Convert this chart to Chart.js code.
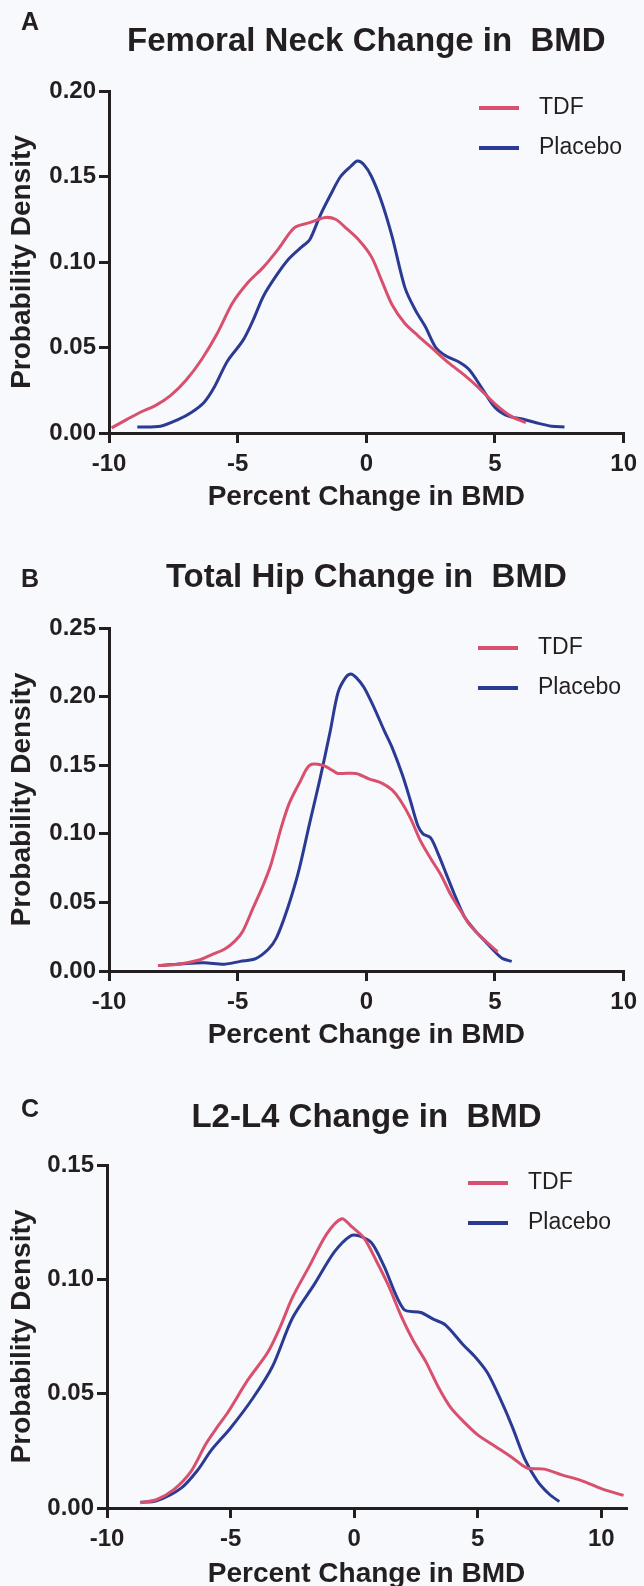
<!DOCTYPE html>
<html>
<head>
<meta charset="utf-8">
<title>Change in BMD – probability density</title>
<script src="https://cdn.jsdelivr.net/npm/chart.js@4.4.0/dist/chart.umd.min.js"></script>
<style>
  html, body { margin: 0; padding: 0; background: #f8f9fc; }
  body { width: 644px; height: 1586px; position: relative; overflow: hidden; }
  .panel { position: absolute; left: 0; width: 644px; }
</style>
</head>
<body>
<div class="panel" style="top:0;height:520px"><canvas id="chartA"></canvas></div>
<div class="panel" style="top:520px;height:530px"><canvas id="chartB"></canvas></div>
<div class="panel" style="top:1050px;height:536px"><canvas id="chartC"></canvas></div>
<script>
// ---- data ----
const seriesNames = ['TDF', 'Placebo'];

// A: femoral neck
const femoralTdfX = [-9.9, -9.3, -8.8, -8.2, -7.6, -7.0, -6.4, -5.8, -5.2, -4.6, -4.0, -3.4, -2.8, -2.2, -1.6, -1.2, -0.8, -0.3, 0.2, 0.6, 1.0, 1.5, 2.0, 2.6, 3.2, 3.8, 4.4, 5.0, 5.6, 6.2];
const femoralTdfY = [0.003, 0.008, 0.012, 0.016, 0.022, 0.031, 0.043, 0.058, 0.076, 0.088, 0.097, 0.108, 0.120, 0.123, 0.126, 0.125, 0.120, 0.113, 0.103, 0.089, 0.075, 0.064, 0.057, 0.049, 0.041, 0.034, 0.026, 0.017, 0.010, 0.006];
const femoralPlaceboX = [-8.9, -8.0, -7.3, -6.8, -6.3, -5.9, -5.4, -4.8, -4.4, -4.0, -3.5, -3.0, -2.5, -2.2, -1.8, -1.4, -1.0, -0.6, -0.35, -0.1, 0.2, 0.6, 1.0, 1.5, 1.9, 2.3, 2.7, 3.1, 3.6, 4.0, 4.5, 5.0, 5.5, 6.1, 6.6, 7.2, 7.7];
const femoralPlaceboY = [0.0035, 0.004, 0.008, 0.012, 0.018, 0.027, 0.042, 0.054, 0.066, 0.080, 0.092, 0.102, 0.109, 0.113, 0.127, 0.139, 0.150, 0.156, 0.159, 0.157, 0.150, 0.135, 0.115, 0.085, 0.072, 0.062, 0.050, 0.045, 0.0415, 0.037, 0.026, 0.015, 0.010, 0.008, 0.006, 0.004, 0.0035];

// B: total hip
const hipTdfX = [-8.1, -7.3, -6.5, -6.0, -5.5, -5.1, -4.8, -4.4, -4.0, -3.7, -3.3, -3.0, -2.6, -2.2, -1.7, -1.3, -1.1, -0.4, 0.1, 0.6, 1.0, 1.3, 1.7, 2.1, 2.5, 2.9, 3.3, 3.7, 4.0, 4.4, 4.8, 5.1];
const hipTdfY = [0.004, 0.005, 0.008, 0.012, 0.016, 0.022, 0.029, 0.046, 0.063, 0.078, 0.105, 0.122, 0.137, 0.150, 0.150, 0.146, 0.144, 0.144, 0.140, 0.137, 0.132, 0.125, 0.112, 0.095, 0.082, 0.070, 0.055, 0.043, 0.034, 0.026, 0.019, 0.014];
const hipPlaceboX = [-8.0, -7.0, -6.3, -5.5, -4.9, -4.3, -3.8, -3.5, -3.2, -2.9, -2.6, -2.2, -1.8, -1.4, -1.1, -0.8, -0.6, -0.4, -0.1, 0.3, 0.7, 1.0, 1.4, 1.7, 2.0, 2.2, 2.5, 2.8, 3.1, 3.4, 3.8, 4.2, 4.6, 5.0, 5.3, 5.65];
const hipPlaceboY = [0.004, 0.0055, 0.006, 0.005, 0.007, 0.009, 0.016, 0.024, 0.038, 0.055, 0.075, 0.108, 0.140, 0.175, 0.203, 0.214, 0.2165, 0.214, 0.207, 0.192, 0.175, 0.163, 0.143, 0.125, 0.106, 0.100, 0.097, 0.085, 0.071, 0.057, 0.040, 0.030, 0.022, 0.014, 0.009, 0.007];

// C: L2-L4
const spineTdfX = [-8.65, -8.0, -7.3, -6.6, -6.0, -5.5, -5.1, -4.3, -3.5, -3.0, -2.5, -1.8, -1.1, -0.5, -0.1, 0.4, 0.9, 1.4, 1.9, 2.4, 2.9, 3.4, 3.9, 4.5, 5.0, 5.7, 6.4, 7.0, 7.7, 8.4, 9.2, 10.0, 10.9];
const spineTdfY = [0.0023, 0.0036, 0.008, 0.016, 0.028, 0.036, 0.042, 0.056, 0.068, 0.079, 0.092, 0.106, 0.120, 0.1265, 0.123, 0.118, 0.108, 0.097, 0.084, 0.073, 0.064, 0.053, 0.044, 0.037, 0.032, 0.027, 0.022, 0.0175, 0.017, 0.0145, 0.012, 0.0085, 0.0055];
const spinePlaceboX = [-8.65, -8.0, -7.0, -6.3, -5.8, -5.0, -4.1, -3.3, -2.5, -1.6, -0.8, -0.15, 0.2, 0.7, 1.2, 2.0, 2.7, 3.2, 3.7, 4.4, 4.9, 5.4, 5.9, 6.4, 6.9, 7.4, 7.9, 8.3];
const spinePlaceboY = [0.0025, 0.0031, 0.0087, 0.017, 0.025, 0.035, 0.048, 0.062, 0.083, 0.098, 0.112, 0.119, 0.119, 0.116, 0.106, 0.087, 0.0855, 0.0826, 0.080, 0.0715, 0.066, 0.059, 0.048, 0.0355, 0.0215, 0.012, 0.006, 0.0028];

// axis ticks / titles
const xTickStep = 5;
const yTickStep = 0.05;
const xAxisTitle = 'Percent Change in BMD';
const yAxisTitle = 'Probability Density';

// ---- styling ----
const FONT = "'Liberation Sans', Arial, Helvetica, sans-serif";
const INK = '#231f20';
const TDF_COLOR = '#d8506d';
const PLACEBO_COLOR = '#2b3b93';

function toPoints(xs, ys) {
    return xs.map((x, i) => ({ x: x, y: ys[i] }));
}

// title, panel letter and legend drawn on the canvas
const panelDeco = {
    id: 'panelDeco',
    afterDraw(chart, args, opts) {
        const ctx = chart.ctx;
        const area = chart.chartArea;
        ctx.save();
        ctx.fillStyle = INK;
        ctx.textBaseline = 'middle';
        ctx.textAlign = 'left';
        ctx.font = 'bold 25px ' + FONT;
        ctx.fillText(opts.letter, 21, opts.letterY);
        ctx.font = 'bold 33px ' + FONT;
        ctx.textAlign = 'center';
        ctx.fillText(opts.title, (area.left + area.right) / 2, opts.titleY);
        ctx.font = '23px ' + FONT;
        ctx.textAlign = 'left';
        chart.data.datasets.forEach((ds, i) => {
            const y = opts.legendY + i * 40;
            ctx.strokeStyle = ds.borderColor;
            ctx.lineWidth = 4;
            ctx.beginPath();
            ctx.moveTo(opts.legendX, y);
            ctx.lineTo(opts.legendX + 40, y);
            ctx.stroke();
            ctx.fillText(ds.label, opts.legendX + 60, y);
        });
        ctx.restore();
    }
};

function makePanel(id, p) {
    const tickFont = { family: FONT, size: 24, weight: 'bold' };
    const titleFont = { family: FONT, size: 28, weight: 'bold', lineHeight: 0.8 };
    const config = {
        type: 'line',
        data: {
            datasets: [{
                label: seriesNames[0],
                data: toPoints(p.tdfX, p.tdfY),
                borderColor: TDF_COLOR,
                borderWidth: 3,
                pointRadius: 0,
                tension: 0.3,
                fill: false
            }, {
                label: seriesNames[1],
                data: toPoints(p.placeboX, p.placeboY),
                borderColor: PLACEBO_COLOR,
                borderWidth: 3,
                pointRadius: 0,
                tension: 0.3,
                fill: false
            }]
        },
        options: {
            responsive: true,
            maintainAspectRatio: false,
            animation: false,
            devicePixelRatio: 1,
            layout: { padding: { top: p.top, right: p.right, bottom: 0, left: 0 } },
            plugins: {
                legend: { display: false },
                tooltip: { enabled: false },
                panelDeco: p.deco
            },
            scales: {
                x: {
                    type: 'linear',
                    min: -10,
                    max: p.xMax,
                    afterBuildTicks: s => { s.ticks = s.ticks.filter(t => Math.abs(t.value % xTickStep) < 1e-9); },
                    afterFit: s => { s.height = p.xHeight; },
                    ticks: { stepSize: xTickStep, includeBounds: false, color: INK, font: tickFont, padding: 7, maxRotation: 0, autoSkip: false },
                    grid: { display: true, drawOnChartArea: false, drawTicks: true, tickLength: 10, color: INK, lineWidth: 3 },
                    border: { display: true, color: INK, width: 3 },
                    title: { display: true, text: xAxisTitle, color: INK, font: titleFont, padding: { top: 0, bottom: p.xTitlePad } }
                },
                y: {
                    type: 'linear',
                    min: 0,
                    max: p.yMax,
                    afterFit: s => { s.width = p.yWidth; },
                    ticks: { stepSize: yTickStep, color: INK, font: tickFont, padding: 3, callback: v => v.toFixed(2) },
                    grid: { display: true, drawOnChartArea: false, drawTicks: true, tickLength: 10, color: INK, lineWidth: 3 },
                    border: { display: true, color: INK, width: 3 },
                    title: { display: true, text: yAxisTitle, color: INK, font: titleFont, padding: { top: 11, bottom: 0 } }
                }
            }
        },
        plugins: [panelDeco]
    };
    return new Chart(document.getElementById(id), config);
}

makePanel('chartA', {
    tdfX: femoralTdfX, tdfY: femoralTdfY, placeboX: femoralPlaceboX, placeboY: femoralPlaceboY,
    xMax: 10, yMax: 0.20, top: 91, right: 16, yWidth: 109, xHeight: 87, xTitlePad: 12,
    deco: { letter: 'A', letterY: 23, title: 'Femoral Neck Change in  BMD', titleY: 42, legendX: 479, legendY: 108 }
});
makePanel('chartB', {
    tdfX: hipTdfX, tdfY: hipTdfY, placeboX: hipPlaceboX, placeboY: hipPlaceboY,
    xMax: 10, yMax: 0.25, top: 108, right: 16, yWidth: 109, xHeight: 79, xTitlePad: 4,
    deco: { letter: 'B', letterY: 60, title: 'Total Hip Change in  BMD', titleY: 58, legendX: 478, legendY: 128 }
});
makePanel('chartC', {
    tdfX: spineTdfX, tdfY: spineTdfY, placeboX: spinePlaceboX, placeboY: spinePlaceboY,
    xMax: 11, yMax: 0.15, top: 115, right: 18, yWidth: 107, xHeight: 78, xTitlePad: 1,
    deco: { letter: 'C', letterY: 60, title: 'L2-L4 Change in  BMD', titleY: 68, legendX: 468, legendY: 133 }
});
</script>
</body>
</html>
